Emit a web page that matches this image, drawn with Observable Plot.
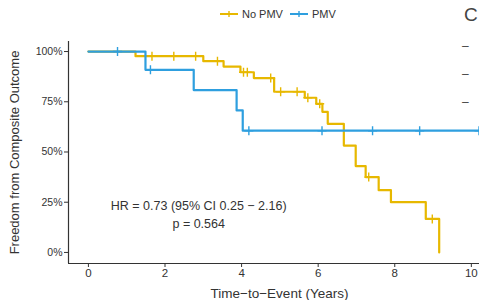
<!DOCTYPE html>
<html>
<head>
<meta charset="utf-8">
<script src="https://cdn.jsdelivr.net/npm/d3@7"></script>
<script src="https://cdn.jsdelivr.net/npm/@observablehq/plot@0.6"></script>
<style>
  html, body { margin: 0; padding: 0; background: #fff; overflow: hidden; }
  #wrap { position: relative; width: 479px; height: 300px; overflow: hidden; font-family: "Liberation Sans", Arial, sans-serif; }
  #chart svg { max-width: none !important; height: 300px !important; display: block; }
  #legend { position: absolute; top: 8px; left: 220px; font-size: 11px; color: #333; display: flex; align-items: center; white-space: nowrap; }
  #legend .item { display: flex; align-items: center; margin-right: 7px; }
  #legend svg { margin-right: 4px; }
  .side { position: absolute; color: #444; }
</style>
</head>
<body>
<div id="wrap">
  <div id="chart"></div>
  <div id="legend"></div>
  <div class="side" style="left:464px; top:4px; font-size:19px;">C</div>
  <div class="side" style="left:462px; top:39px; font-size:12px;">–</div>
  <div class="side" style="left:462px; top:67px; font-size:12px;">–</div>
  <div class="side" style="left:462px; top:95px; font-size:12px;">–</div>
</div>
<script>
// ---- data ----
const groups = ["No PMV", "PMV"];
const colors = ["#E7B800", "#2E9FDF"];

const noPmvTime = [0, 1.23, 3.0, 3.53, 3.97, 4.32, 4.85, 5.65, 5.95, 6.11, 6.25, 6.67, 6.98, 7.24, 7.58, 7.9, 8.81, 9.16];
const noPmvSurv = [1, 0.977, 0.952, 0.925, 0.897, 0.868, 0.80, 0.77, 0.74, 0.70, 0.64, 0.532, 0.43, 0.375, 0.31, 0.25, 0.167, 0.0];
const noPmvCensor = [1.66, 2.23, 2.8, 3.37, 4.05, 4.15, 4.76, 5.02, 5.45, 5.73, 6.04, 7.32, 8.98];

const pmvTime = [0, 1.49, 2.75, 3.87, 4.03, 10.5];
const pmvSurv = [1, 0.909, 0.808, 0.707, 0.606, 0.606];
const pmvCensor = [0.76, 1.62, 4.19, 6.1, 7.42, 8.65, 10.2];

const xTicks = [0, 2, 4, 6, 8, 10];
const yTicks = [0, 0.25, 0.5, 0.75, 1];
const xDomain = [-0.52, 10.5];
const yDomain = [-0.055, 1.05];

const annotations = [
  {x: 2.88, y: 0.232, text: "HR = 0.73 (95% CI 0.25 \u2212 2.16)"},
  {x: 2.88, y: 0.142, text: "p = 0.564"}
];
const xLabel = "Time\u2212to\u2212Event (Years)";
const yLabel = "Freedom from Composite Outcome";

// ---- build tables ----
function curve(times, survs, group) {
  return times.map((t, i) => ({time: t, surv: survs[i], group}));
}
function survAt(times, survs, t) {
  let s = survs[0];
  for (let i = 0; i < times.length; i++) if (times[i] <= t) s = survs[i];
  return s;
}
const lines = [
  ...curve(noPmvTime, noPmvSurv, groups[0]),
  ...curve(pmvTime, pmvSurv, groups[1])
];
const censors = [
  ...noPmvCensor.map(t => ({time: t, surv: survAt(noPmvTime, noPmvSurv, t), group: groups[0]})),
  ...pmvCensor.map(t => ({time: t, surv: survAt(pmvTime, pmvSurv, t), group: groups[1]}))
];

const plot = Plot.plot({
  width: 490,
  height: 300,
  marginLeft: 68,
  marginRight: 0,
  marginTop: 41,
  marginBottom: 37,
  style: {fontFamily: "'Liberation Sans', Arial, sans-serif", fontSize: "11px", color: "#333", background: "transparent", maxWidth: "none"},
  x: {domain: xDomain},
  y: {domain: yDomain},
  color: {domain: groups, range: colors},
  marks: [
    Plot.line(lines, {x: "time", y: "surv", z: "group", stroke: "group", curve: "step-after", strokeWidth: 2.2}),
    Plot.dot(censors, {x: "time", y: "surv", stroke: "group", symbol: "plus", r: 3, strokeWidth: 1.4}),
    Plot.ruleX([xDomain[0]], {stroke: "#333", strokeWidth: 1.2}),
    Plot.ruleY([yDomain[0]], {stroke: "#333", strokeWidth: 1.2}),
    Plot.axisX({ticks: xTicks, tickSize: 4, tickPadding: 1, label: null, fontSize: 11.5, stroke: "#333"}),
    Plot.axisY({ticks: yTicks, tickFormat: d3.format(".0%"), tickSize: 4, tickPadding: 2, label: null, fontSize: 10.5, stroke: "#333"}),
    Plot.text(annotations, {x: "x", y: "y", text: "text", fontSize: 12.5, fill: "#333"}),
    Plot.text([xLabel], {frameAnchor: "bottom", lineAnchor: "middle", textAnchor: "middle", dy: 30, fontSize: 13.5, fill: "#333"}),
    Plot.text([yLabel], {frameAnchor: "left", textAnchor: "middle", lineAnchor: "middle", dx: -54, rotate: -90, fontSize: 13, fill: "#333"})
  ]
});
document.getElementById("chart").appendChild(plot);

// legend
const legend = document.getElementById("legend");
groups.forEach((g, i) => {
  const item = document.createElement("div");
  item.className = "item";
  item.innerHTML = `<svg width="18" height="10"><line x1="0" y1="5" x2="18" y2="5" stroke="${colors[i]}" stroke-width="2"/><line x1="9" y1="2" x2="9" y2="8" stroke="${colors[i]}" stroke-width="1.4"/><line x1="6" y1="5" x2="12" y2="5" stroke="${colors[i]}" stroke-width="1.4"/></svg><span>${g}</span>`;
  legend.appendChild(item);
});
</script>
</body>
</html>
